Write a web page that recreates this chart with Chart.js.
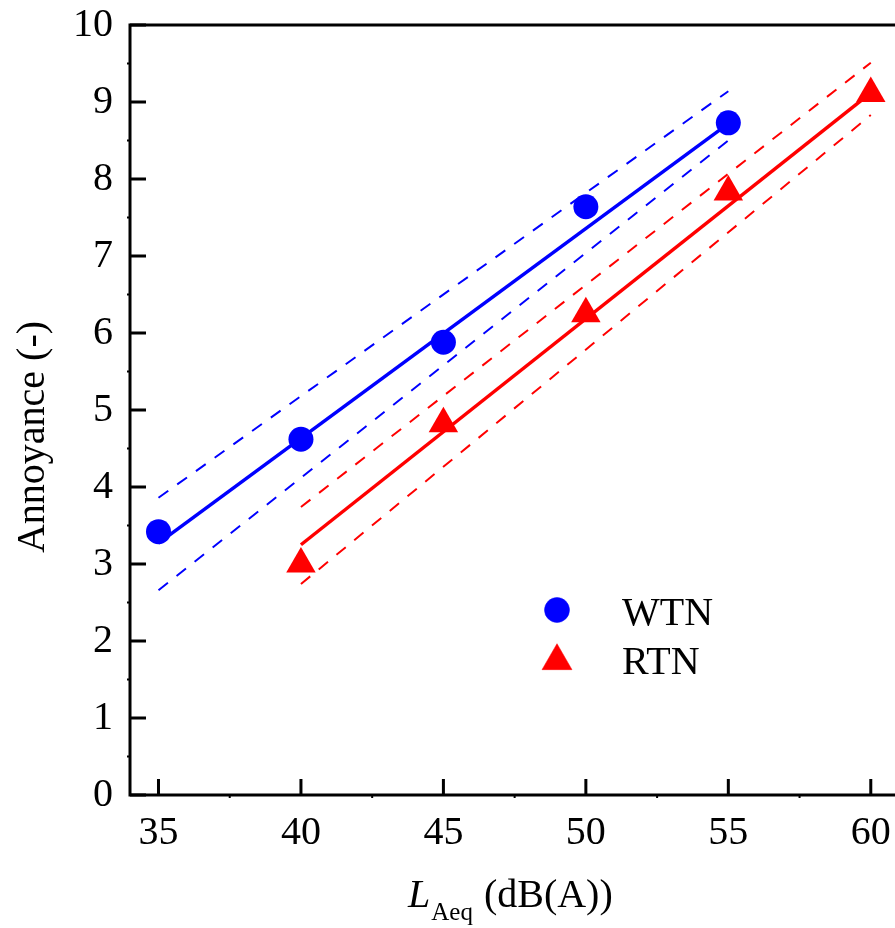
<!DOCTYPE html>
<html><head><meta charset="utf-8">
<script src="https://cdn.jsdelivr.net/npm/chart.js@4/dist/chart.umd.min.js"></script>
<style>html,body{margin:0;padding:0;background:#fff;overflow:hidden}canvas{display:block}</style>
</head><body>
<canvas id="c" width="895" height="928"></canvas>
<script>
// ---- data ----
const wtnX = [35, 40, 45, 50, 55];
const wtnY = [3.42, 4.62, 5.88, 7.64, 8.73];
const rtnX = [40, 45, 50, 55, 60];
const rtnY = [3.00, 4.82, 6.25, 7.83, 9.11];
const wtnFitX = [35, 55];
const wtnFit = [3.27, 8.72];
const wtnUpper = [3.86, 9.14];
const wtnLower = [2.66, 8.50];
const rtnFitX = [40, 60];
const rtnFit = [3.25, 9.12];
const rtnUpper = [3.74, 9.51];
const rtnLower = [2.74, 8.83];
const xTicks = [35, 40, 45, 50, 55, 60];
const yTicks = [0, 1, 2, 3, 4, 5, 6, 7, 8, 9, 10];
const xMinor = [37.5, 42.5, 47.5, 52.5, 57.5];
const yMinor = [0.5, 1.5, 2.5, 3.5, 4.5, 5.5, 6.5, 7.5, 8.5, 9.5];
const seriesNames = ['WTN', 'RTN'];

const FONT = '"Liberation Serif","Times New Roman",serif';
const BLUE = '#0000ff', RED = '#ff0000';
const pts = (xs, ys) => xs.map((x, i) => ({x: x, y: ys[i]}));

const lineDs = (xs, ys, color, dashed) => ({
  type: 'line', data: pts(xs, ys), borderColor: color, backgroundColor: color,
  borderWidth: dashed ? 2 : 3.5, borderDash: dashed ? [12, 11] : [],
  pointRadius: 0, fill: false, tension: 0
});

const decor = {
  id: 'decor',
  afterDraw(chart) {
    const ctx = chart.ctx, a = chart.chartArea;
    const xs = chart.scales.x, ys = chart.scales.y;
    ctx.save();
    ctx.strokeStyle = '#000';
    ctx.lineWidth = 3;
    ctx.lineCap = 'butt';
    ctx.beginPath();
    ctx.moveTo(a.left, a.top); ctx.lineTo(a.left, a.bottom);
    ctx.moveTo(a.left - 1.5, a.bottom); ctx.lineTo(chart.width, a.bottom);
    ctx.moveTo(a.left - 1.5, a.top); ctx.lineTo(chart.width, a.top);
    ctx.stroke();
    // major ticks inward
    ctx.lineWidth = 3;
    ctx.beginPath();
    xTicks.forEach(v => { const p = xs.getPixelForValue(v); ctx.moveTo(p, a.bottom); ctx.lineTo(p, a.bottom - 16); });
    yTicks.forEach(v => { const p = ys.getPixelForValue(v); ctx.moveTo(a.left, p); ctx.lineTo(a.left + 16, p); });
    ctx.stroke();
    // minor ticks outward (tiny)
    ctx.lineWidth = 2;
    ctx.beginPath();
    xMinor.forEach(v => { const p = xs.getPixelForValue(v); ctx.moveTo(p, a.bottom); ctx.lineTo(p, a.bottom + 3); });
    yMinor.forEach(v => { const p = ys.getPixelForValue(v); ctx.moveTo(a.left, p); ctx.lineTo(a.left - 3, p); });
    ctx.stroke();

    // y title
    ctx.fillStyle = '#000';
    ctx.save();
    ctx.translate(44, 437);
    ctx.rotate(-Math.PI / 2);
    ctx.font = '40px ' + FONT;
    ctx.textAlign = 'center';
    ctx.textBaseline = 'alphabetic';
    ctx.fillText('Annoyance (-)', 0, 0);
    ctx.restore();

    // x title: L_Aeq (dB(A))
    ctx.textAlign = 'left';
    ctx.textBaseline = 'alphabetic';
    ctx.font = 'italic 40px ' + FONT;
    let x = 408;
    ctx.fillText('L', x, 907);
    x += ctx.measureText('L').width + 1;
    ctx.font = '25px ' + FONT;
    ctx.fillText('Aeq', x, 920);
    x += ctx.measureText('Aeq').width + 11;
    ctx.font = '40px ' + FONT;
    ctx.fillText('(dB(A))', x, 907);

    // legend
    const items = [
      {name: seriesNames[0], style: 'circle', r: 12.5, color: BLUE, cy: 610, ty: 625},
      {name: seriesNames[1], style: 'triangle', r: 17.3, color: RED, cy: 661, ty: 674}
    ];
    items.forEach(it => {
      ctx.fillStyle = it.color; ctx.strokeStyle = it.color; ctx.lineWidth = 0.5;
      Chart.helpers.drawPoint(ctx, {pointStyle: it.style, radius: it.r, rotation: 0, borderWidth: 0.5}, 557, it.cy);
      ctx.fillStyle = '#000';
      ctx.font = '40px ' + FONT;
      ctx.fillText(it.name, 622, it.ty);
    });
    ctx.restore();
  }
};

new Chart(document.getElementById('c'), {
  type: 'scatter',
  data: {
    datasets: [
      {label: seriesNames[0], data: pts(wtnX, wtnY), pointStyle: 'circle', pointRadius: 12.5,
       backgroundColor: BLUE, borderColor: BLUE, borderWidth: 0, pointHoverRadius: 12.5},
      {label: seriesNames[1], data: pts(rtnX, rtnY), pointStyle: 'triangle', pointRadius: 17,
       backgroundColor: RED, borderColor: RED, borderWidth: 0, pointHoverRadius: 17},
      lineDs(wtnFitX, wtnFit, BLUE, false),
      lineDs(wtnFitX, wtnUpper, BLUE, true),
      lineDs(wtnFitX, wtnLower, BLUE, true),
      lineDs(rtnFitX, rtnFit, RED, false),
      lineDs(rtnFitX, rtnUpper, RED, true),
      lineDs(rtnFitX, rtnLower, RED, true)
    ]
  },
  options: {
    responsive: false, animation: false, devicePixelRatio: 1,
    layout: {padding: {top: 25, right: 0, bottom: 0, left: 0}, autoPadding: false},
    plugins: {legend: {display: false}, tooltip: {enabled: false}},
    scales: {
      x: {
        type: 'linear', min: 34, max: 60.85,
        afterBuildTicks: s => { s.ticks = xTicks.map(v => ({value: v})); },
        afterFit: s => { s.height = 133; s.paddingLeft = 0; s.paddingRight = 0; },
        grid: {display: false, drawTicks: false}, border: {display: false},
        ticks: {font: {family: FONT, size: 40}, color: '#000', padding: 14, maxRotation: 0, autoSkip: false}
      },
      y: {
        type: 'linear', min: 0, max: 10,
        afterBuildTicks: s => { s.ticks = yTicks.map(v => ({value: v})); },
        afterFit: s => { s.width = 130; s.paddingTop = 0; s.paddingBottom = 0; },
        grid: {display: false, drawTicks: false}, border: {display: false},
        ticks: {font: {family: FONT, size: 40}, color: '#000', padding: 17, autoSkip: false}
      }
    }
  },
  plugins: [decor]
});
</script>
</body></html>
